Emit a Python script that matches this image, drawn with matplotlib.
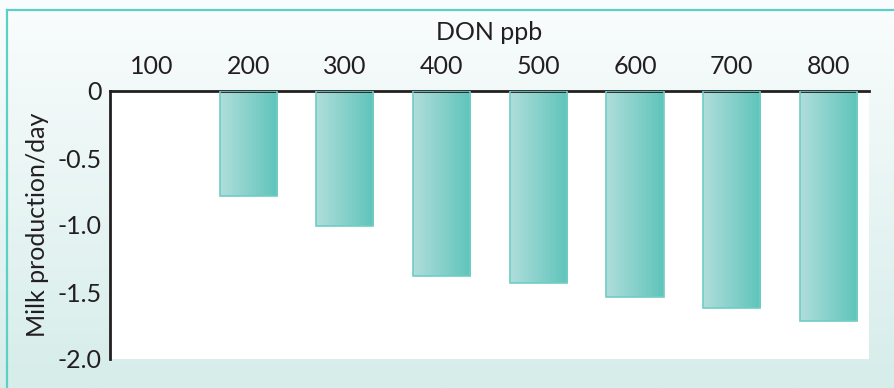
import numpy as np
import matplotlib
matplotlib.use("Agg")
import matplotlib.pyplot as plt
from matplotlib.colors import LinearSegmentedColormap

plt.rcParams['font.family'] = ['Lato', 'DejaVu Sans']
plt.rcParams['axes.unicode_minus'] = False

categories = ["100", "200", "300", "400", "500", "600", "700", "800"]
values = [0.0, -0.78, -1.01, -1.38, -1.43, -1.54, -1.62, -1.72]
y_ticks = [0, -0.5, -1.0, -1.5, -2.0]
y_tick_labels = ["0", "-0.5", "-1.0", "-1.5", "-2.0"]
x_title = "DON ppb"
y_title = "Milk production/day"

text_color = "#231f20"
FS = 18
W, H = 895, 388
fig = plt.figure(figsize=(W / 100, H / 100), dpi=100)

# background gradient panel
bg = fig.add_axes([0, 0, 1, 1], zorder=0)
bg_cmap = LinearSegmentedColormap.from_list("bg", ["#fafdfd", "#d6edea"])
grad = np.linspace(0, 1, 256).reshape(-1, 1)
bg.imshow(grad, cmap=bg_cmap, aspect="auto", extent=[0, 1, 0, 1], origin="upper")
bg.plot([7 / W, 7 / W], [0, 1 - 10 / H], color="#5ccfc6", lw=1.6)
bg.plot([7 / W, 1], [1 - 10 / H, 1 - 10 / H], color="#5ccfc6", lw=1.6)
bg.set_xlim(0, 1)
bg.set_ylim(0, 1)
bg.axis("off")

# main axes
left, right, top, bottom = 110, 869, 91, 359
ax = fig.add_axes([left / W, 1 - bottom / H, (right - left) / W, (bottom - top) / H], zorder=1)
ax.set_facecolor("white")

x = np.arange(len(categories))
bar_cmap = LinearSegmentedColormap.from_list("bar", ["#b0dedb", "#5ec4ba"])
hgrad = np.linspace(0, 1, 256).reshape(1, -1)
bars = ax.bar(x, values, width=0.59, color="none", edgecolor="#6fcdc4", linewidth=1.2, zorder=3)
for b in bars:
    h = b.get_height()
    if h == 0:
        b.set_edgecolor("none")
        continue
    x0 = b.get_x()
    w = b.get_width()
    im = ax.imshow(hgrad, cmap=bar_cmap, aspect="auto",
                   extent=[x0, x0 + w, h, 0], zorder=2, interpolation="bilinear")
    im.set_clip_path(b)

ax.set_xlim(-0.43, 7.42)
ax.set_ylim(-2.0, 0)

ax.xaxis.tick_top()
ax.set_xticks(x)
ax.set_xticklabels(categories, fontsize=FS, color=text_color)
ax.set_yticks(y_ticks)
ax.set_yticklabels(y_tick_labels, fontsize=FS, color=text_color)
ax.tick_params(axis="x", length=0, pad=9)
ax.tick_params(axis="y", length=0, pad=6)

for s in ["right", "bottom"]:
    ax.spines[s].set_visible(False)
for s in ["left", "top"]:
    ax.spines[s].set_color("#231f20")
    ax.spines[s].set_linewidth(2)

fig.text(489 / W, 1 - 33 / H, x_title, fontsize=FS, color=text_color, ha="center", va="center")
fig.text(38 / W, 1 - 225 / H, y_title, fontsize=FS, color=text_color, ha="center", va="center", rotation=90)

fig.savefig("out.png", dpi=100)
